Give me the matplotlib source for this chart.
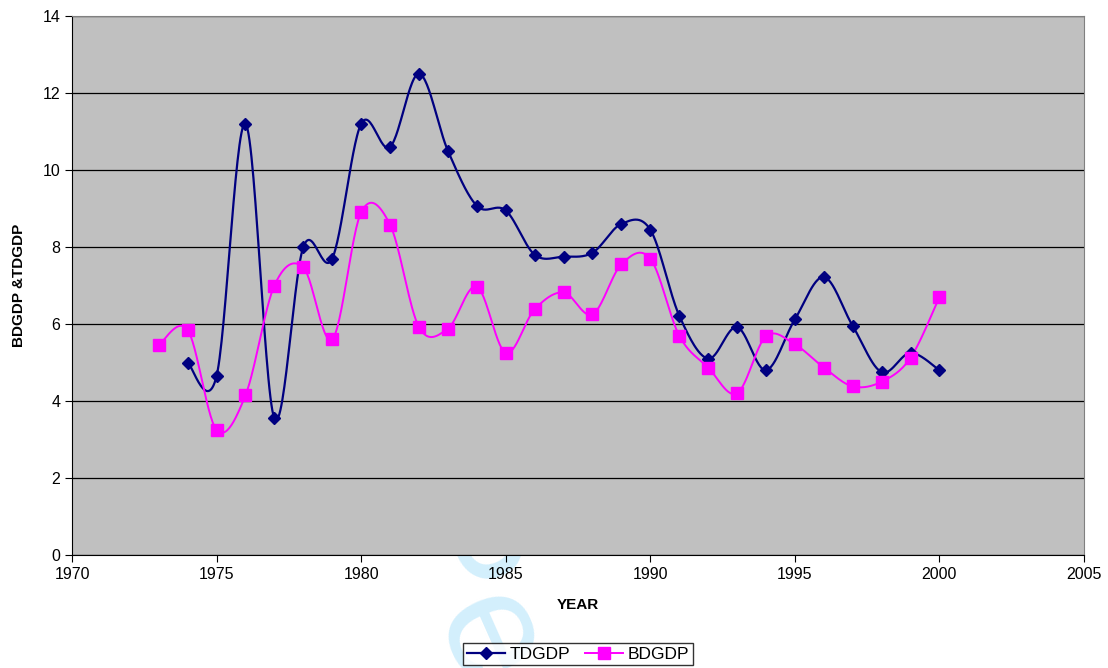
import numpy as np
import matplotlib
matplotlib.use('Agg')
from matplotlib import pyplot as plt
from matplotlib.lines import Line2D

plt.rcParams['font.family'] = ['Liberation Sans', 'DejaVu Sans']

td_years = list(range(1974, 2001))
td_vals = [5.0, 4.65, 11.2, 3.55, 8.0, 7.7, 11.2, 10.6, 12.5, 10.5, 9.07, 8.95,
           7.8, 7.75, 7.85, 8.6, 8.45, 6.22, 5.1, 5.92, 4.8, 6.12, 7.22, 5.95,
           4.75, 5.25, 4.8]

bd_years = list(range(1973, 2001))
bd_vals = [5.45, 5.85, 3.25, 4.15, 7.0, 7.47, 5.6, 8.9, 8.58, 5.92, 5.88, 6.97,
           5.25, 6.38, 6.82, 6.25, 7.55, 7.7, 5.7, 4.87, 4.2, 5.68, 5.47, 4.87,
           4.38, 4.5, 5.12, 6.7]


def smooth(xs, ys, n=30):
    # excel-like bezier smoothing through the points
    x = np.asarray(xs, float)
    y = np.asarray(ys, float)
    px = np.concatenate([[x[0]], x, [x[-1]]])
    py = np.concatenate([[y[0]], y, [y[-1]]])
    ox, oy = [], []
    t = np.linspace(0, 1, n)
    for i in range(1, len(px) - 2):
        p0 = np.array([px[i], py[i]])
        p3 = np.array([px[i + 1], py[i + 1]])
        c1 = p0 + (np.array([px[i + 1], py[i + 1]]) - np.array([px[i - 1], py[i - 1]])) / 6
        c2 = p3 - (np.array([px[i + 2], py[i + 2]]) - np.array([px[i], py[i]])) / 6
        b = ((1 - t) ** 3)[:, None] * p0 + (3 * (1 - t) ** 2 * t)[:, None] * c1 \
            + (3 * (1 - t) * t ** 2)[:, None] * c2 + (t ** 3)[:, None] * p3
        ox.extend(b[:, 0])
        oy.extend(b[:, 1])
    return ox, oy


fig = plt.figure(figsize=(11.08, 6.68), dpi=100)
ax = fig.add_axes([72 / 1108, 1 - 555 / 668, (1084 - 72) / 1108, (555 - 16) / 668])
ax.set_zorder(2)
ax.set_facecolor('#c0c0c0')

# faint watermark behind the plot area
fig.text(462 / 1108, 1 - 600 / 668, 'Pe', fontsize=112, color='#d3effc', rotation=-66,
         ha='center', va='center', zorder=0)

navy = '#000080'
pink = '#ff00ff'

sx, sy = smooth(td_years, td_vals)
ax.plot(sx, sy, color=navy, lw=1.6, zorder=3)
ax.plot(td_years, td_vals, ls='none', marker='D', ms=6.5, color=navy, zorder=4)

sx, sy = smooth(bd_years, bd_vals)
ax.plot(sx, sy, color=pink, lw=1.4, zorder=3)
ax.plot(bd_years, bd_vals, ls='none', marker='s', ms=8, color=pink, zorder=4)

ax.set_xlim(1970, 2005)
ax.set_ylim(0, 14)
ax.set_xticks(range(1970, 2006, 5))
ax.set_yticks(range(0, 15, 2))
ax.yaxis.grid(True, color='black', lw=0.9)
ax.set_axisbelow(True)
ax.tick_params(labelsize=11.5, direction='out', length=5, color='black')
for s in ax.spines.values():
    s.set_color('#808080')
ax.spines['left'].set_color('black')
ax.spines['bottom'].set_color('black')

ax.set_xlabel('YEAR', fontsize=11, fontweight='bold', labelpad=12)
ax.set_ylabel('BDGDP &TDGDP', fontsize=11, fontweight='bold', labelpad=12)

handles = [Line2D([], [], color=navy, marker='D', ms=6.5, lw=1.6),
           Line2D([], [], color=pink, marker='s', ms=8, lw=1.4)]
leg = fig.legend(handles, ['TDGDP', 'BDGDP'], loc='center', ncol=2,
                 bbox_to_anchor=(578 / 1108, 1 - 654 / 668), fontsize=12.5,
                 frameon=True, fancybox=False, edgecolor='black',
                 handlelength=2.2, handletextpad=0.3, columnspacing=0.8,
                 borderpad=0.2)
leg.get_frame().set_linewidth(1.0)
leg.set_zorder(5)

fig.savefig('out.png', dpi=100)
